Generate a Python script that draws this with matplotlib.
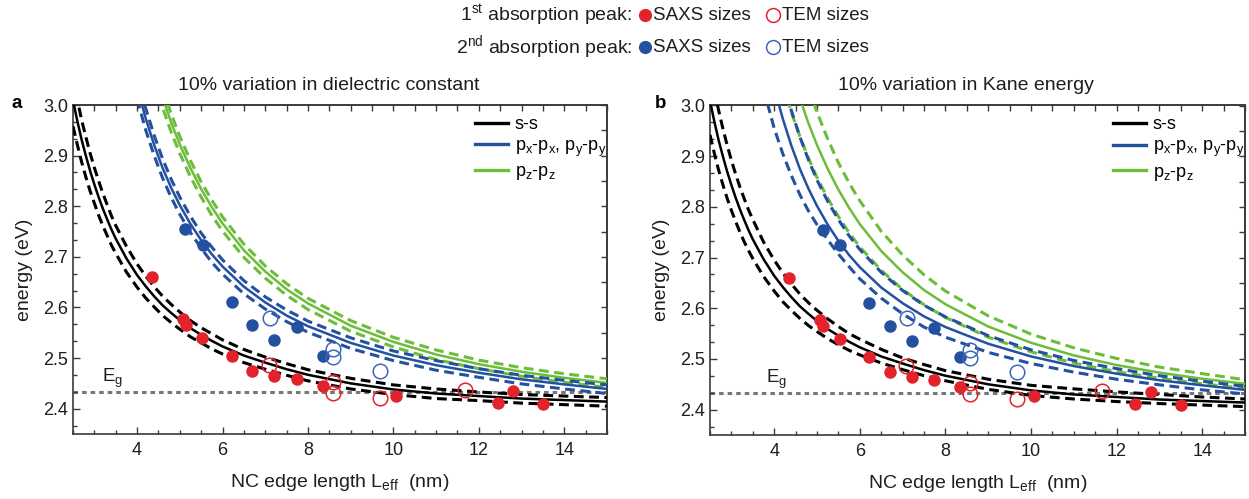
import numpy as np
import matplotlib
matplotlib.use("Agg")
import matplotlib.pyplot as plt
from matplotlib.lines import Line2D

plt.rcParams['font.family'] = ['Liberation Sans', 'DejaVu Sans']
plt.rcParams['mathtext.fontset'] = 'custom'
plt.rcParams['mathtext.rm'] = 'Liberation Sans'
plt.rcParams['mathtext.it'] = 'Liberation Sans:italic'

# ---------------- data ----------------
# edge length grid (nm); every curve below covers the tail of this grid
L_GRID = [2.5, 2.6, 2.7, 2.8, 2.9, 3.0, 3.1, 3.2, 3.3, 3.4, 3.5, 3.75, 4.0, 4.2, 4.4, 4.6, 4.8,
          5.0, 5.25, 5.5, 5.75, 6.0, 6.5, 7.0, 7.5, 8.0, 9, 10, 11, 12, 13, 14, 15]

# s-s (black), nominal
black_solid = [3.009, 2.969, 2.932, 2.900, 2.870, 2.843, 2.818, 2.795, 2.774, 2.754, 2.736, 2.697, 2.664,
               2.642, 2.622, 2.604, 2.589, 2.575, 2.559, 2.546, 2.534, 2.523, 2.505, 2.491, 2.478, 2.467,
               2.450, 2.438, 2.430, 2.425, 2.420, 2.417, 2.414]
# px-px, py-py (blue), nominal
blue_solid = [3.036, 2.974, 2.921, 2.875, 2.836, 2.802, 2.765, 2.733, 2.705, 2.681, 2.641, 2.610, 2.584,
              2.563, 2.530, 2.505, 2.486, 2.471, 2.458, 2.448, 2.439]
# pz-pz (green), nominal
green_solid = [3.069, 3.014, 2.965, 2.922, 2.875, 2.834, 2.798, 2.766, 2.713, 2.671, 2.636, 2.608, 2.564,
               2.532, 2.507, 2.488, 2.473, 2.461, 2.451]

# panel a: 10 % variation in dielectric constant
black_a_hi = [3.054, 3.011, 2.971, 2.937, 2.905, 2.876, 2.850, 2.825, 2.803, 2.781, 2.762, 2.721, 2.686,
              2.662, 2.641, 2.622, 2.606, 2.591, 2.574, 2.560, 2.548, 2.536, 2.517, 2.502, 2.489, 2.477,
              2.460, 2.447, 2.439, 2.433, 2.428, 2.425, 2.422]
black_a_lo = [2.958, 2.922, 2.888, 2.858, 2.830, 2.806, 2.782, 2.761, 2.742, 2.723, 2.707, 2.670, 2.640,
              2.619, 2.601, 2.584, 2.570, 2.557, 2.542, 2.530, 2.518, 2.508, 2.491, 2.478, 2.466, 2.455,
              2.439, 2.428, 2.420, 2.416, 2.411, 2.408, 2.405]
blue_a_hi = [3.058, 2.994, 2.940, 2.893, 2.853, 2.818, 2.780, 2.747, 2.719, 2.694, 2.653, 2.621, 2.595,
             2.573, 2.540, 2.514, 2.495, 2.479, 2.466, 2.456, 2.447]
blue_a_lo = [3.012, 2.951, 2.900, 2.855, 2.817, 2.784, 2.748, 2.717, 2.689, 2.666, 2.627, 2.597, 2.572,
             2.551, 2.519, 2.495, 2.476, 2.462, 2.449, 2.439, 2.430]
green_a_hi = [3.032, 2.982, 2.938, 2.890, 2.848, 2.812, 2.779, 2.725, 2.682, 2.647, 2.618, 2.574, 2.541,
              2.516, 2.496, 2.481, 2.469, 2.459]
green_a_lo = [3.048, 2.994, 2.946, 2.904, 2.858, 2.818, 2.782, 2.751, 2.699, 2.658, 2.624, 2.596, 2.553,
              2.522, 2.497, 2.479, 2.464, 2.452, 2.442]

# panel b: 10 % variation in Kane energy
black_b_hi = [3.031, 2.991, 2.955, 2.922, 2.892, 2.864, 2.839, 2.816, 2.794, 2.775, 2.731, 2.695, 2.670,
              2.648, 2.628, 2.611, 2.596, 2.579, 2.564, 2.550, 2.539, 2.519, 2.502, 2.489, 2.477, 2.460,
              2.448, 2.441, 2.435, 2.430, 2.425, 2.421]
black_b_lo = [2.942, 2.906, 2.873, 2.844, 2.817, 2.793, 2.771, 2.750, 2.731, 2.714, 2.698, 2.663, 2.634,
              2.613, 2.596, 2.580, 2.566, 2.554, 2.540, 2.528, 2.517, 2.508, 2.492, 2.479, 2.467, 2.457,
              2.440, 2.428, 2.421, 2.416, 2.412, 2.409, 2.406]
blue_b_hi = [3.052, 2.990, 2.938, 2.893, 2.853, 2.811, 2.775, 2.743, 2.716, 2.671, 2.635, 2.606, 2.583,
             2.546, 2.518, 2.497, 2.481, 2.467, 2.456, 2.446]
blue_b_lo = [3.033, 2.955, 2.905, 2.862, 2.824, 2.792, 2.765, 2.735, 2.707, 2.682, 2.658, 2.620, 2.589,
             2.563, 2.543, 2.513, 2.491, 2.474, 2.460, 2.449, 2.439, 2.431]
green_b_hi = [3.035, 2.987, 2.934, 2.887, 2.847, 2.812, 2.752, 2.705, 2.666, 2.634, 2.585, 2.549, 2.522,
              2.501, 2.484, 2.471, 2.459]
green_b_lo = [3.043, 2.987, 2.939, 2.896, 2.858, 2.817, 2.781, 2.749, 2.721, 2.675, 2.637, 2.607, 2.582,
              2.543, 2.514, 2.492, 2.475, 2.462, 2.451, 2.442]

E_GAP = 2.433

# measured peak energies
red_saxs_L = [4.35, 5.08, 5.14, 5.53, 6.22, 6.70, 7.21, 7.74, 8.35, 10.06, 12.44, 12.81, 13.51]
red_saxs_E = [2.660, 2.577, 2.565, 2.540, 2.504, 2.474, 2.464, 2.459, 2.444, 2.426, 2.412, 2.435, 2.410]
red_tem_L = [7.08, 8.58, 8.58, 9.68, 11.67]
red_tem_E = [2.486, 2.452, 2.431, 2.421, 2.437]
blue_saxs_L = [5.13, 5.54, 6.22, 6.70, 7.21, 7.74, 8.35]
blue_saxs_E = [2.755, 2.724, 2.611, 2.566, 2.535, 2.561, 2.504]
blue_tem_L = [7.10, 8.58, 8.58, 9.68]
blue_tem_E = [2.580, 2.518, 2.502, 2.474]

x_ticks = [4, 6, 8, 10, 12, 14]
y_ticks = [2.4, 2.5, 2.6, 2.7, 2.8, 2.9, 3.0]
y_ticklabels = ['2.4', '2.5', '2.6', '2.7', '2.8', '2.9', '3.0']
legend_labels = ['s-s',
                 r'p$\mathregular{_x}$-p$\mathregular{_x}$, p$\mathregular{_y}$-p$\mathregular{_y}$',
                 r'p$\mathregular{_z}$-p$\mathregular{_z}$']

# ---------------- style ----------------
RED = '#e3232b'
BLUE = '#2450a0'
BLUE_O = '#3d68b8'
GREEN = '#6cbd3a'
TXT = '#1e1e1e'
SP = '#3a3a3a'
DASH = (0, (3.2, 1.8))


def tail(vals):
    return L_GRID[len(L_GRID) - len(vals):]


fig = plt.figure(figsize=(12.49, 4.99), dpi=100)
axa = fig.add_axes([73/1249, 1-434/499, 534/1249, 329/499])
axb = fig.add_axes([710/1249, 1-435/499, 535/1249, 329.5/499])

panels = [
    (axa, [black_a_hi, black_a_lo], [blue_a_hi, blue_a_lo], [green_a_hi, green_a_lo],
     3.17, '10% variation in dielectric constant', 329, 'a', 17),
    (axb, [black_b_hi, black_b_lo], [blue_b_hi, blue_b_lo], [green_b_hi, green_b_lo],
     3.81, '10% variation in Kane energy', 966, 'b', 661),
]

for ax, bdash, bldash, gdash, egx, title, tx, lab, lx in panels:
    for solid, dashes, col in [(green_solid, gdash, GREEN), (blue_solid, bldash, BLUE),
                               (black_solid, bdash, 'k')]:
        ax.plot(tail(solid), solid, color=col, lw=1.8, zorder=3)
        for d in dashes:
            ax.plot(tail(d), d, color=col, lw=2.2, ls=DASH, zorder=3)
    ax.set_xlim(2.5, 15)
    ax.set_ylim(2.35, 3.0)
    ax.axhline(E_GAP, color='#777777', lw=2.2, ls=(0, (1.5, 1.3)), zorder=1)
    ax.plot(red_saxs_L, red_saxs_E, 'o', color=RED, ms=9, mew=0, zorder=5)
    ax.plot(red_tem_L, red_tem_E, 'o', mfc='none', mec=RED, ms=10.5, mew=1.1, zorder=5)
    ax.plot(blue_saxs_L, blue_saxs_E, 'o', color=BLUE, ms=9, mew=0, zorder=5)
    ax.plot(blue_tem_L, blue_tem_E, 'o', mfc='none', mec=BLUE_O, ms=10.5, mew=1.1, zorder=5)
    ax.text(egx, 2.452, r'E$\mathregular{_g}$', fontsize=13.5, color=TXT)

    ax.set_xticks(x_ticks)
    ax.set_xticks(np.arange(2.5, 15.01, 0.5), minor=True)
    ax.set_yticks(y_ticks)
    ax.set_yticklabels(y_ticklabels)
    ax.set_yticks(np.arange(2.4 - 0.1/3, 3.0, 0.1/3), minor=True)
    ax.tick_params(which='both', direction='in', color=SP, labelsize=13, labelcolor=TXT)
    ax.tick_params(which='major', length=5, width=1)
    ax.tick_params(which='minor', length=3, width=1)
    ax.tick_params(axis='x', pad=6)
    for s in ax.spines.values():
        s.set_color(SP)
        s.set_linewidth(1.2)
    sx = ax.secondary_xaxis('top')
    sx.set_xticks(np.arange(3, 15.01, 0.5))
    sx.set_xticklabels([])
    sx.tick_params(direction='in', length=4, width=1, color=SP)
    sx.spines['top'].set_color(SP)
    sx.spines['top'].set_linewidth(1.2)
    sy = ax.secondary_yaxis('right')
    sy.set_yticks(np.arange(2.4, 3.001, 0.05))
    sy.set_yticklabels([])
    sy.tick_params(direction='in', length=4, width=1, color=SP)
    sy.spines['right'].set_color(SP)
    sy.spines['right'].set_linewidth(1.2)

    ax.set_ylabel('energy (eV)', fontsize=14, labelpad=7, color=TXT)
    ax.set_xlabel(r'NC edge length L$\mathregular{_{eff}}$  (nm)', fontsize=14, labelpad=9, color=TXT)
    fig.text(tx/1249, 1-86/499, title, fontsize=14, ha='center', va='center', color=TXT)
    fig.text(lx/1249, 1-103/499, lab, fontsize=13.5, fontweight='bold', ha='center', va='center')

    handles = [Line2D([], [], color='k', lw=2.4), Line2D([], [], color=BLUE, lw=2.4),
               Line2D([], [], color=GREEN, lw=2.4)]
    ax.legend(handles, legend_labels, loc='upper right', bbox_to_anchor=(1.005, 0.978), frameon=False,
              fontsize=13, handlelength=1.85, handletextpad=0.35, labelspacing=0.26, borderaxespad=0,
              borderpad=0.2)

for row, (lead, col, ocol) in enumerate([('1$\\mathregular{^{st}}$', RED, RED),
                                         ('2$\\mathregular{^{nd}}$', BLUE, BLUE_O)]):
    yy = 1 - (15 + 32*row)/499
    fig.text(632/1249, yy, lead + ' absorption peak:', fontsize=14, ha='right', va='center', color=TXT)
    fig.add_artist(Line2D([645/1249], [yy], transform=fig.transFigure, marker='o', color=col, ms=9.5,
                          mew=0, ls='none'))
    fig.text(653/1249, yy, 'SAXS sizes', fontsize=13.5, ha='left', va='center', color=TXT)
    fig.add_artist(Line2D([773/1249], [yy], transform=fig.transFigure, marker='o', mfc='none', mec=ocol,
                          ms=10, mew=1.1, ls='none'))
    fig.text(782/1249, yy, 'TEM sizes', fontsize=13.5, ha='left', va='center', color=TXT)

fig.savefig("out.png")
